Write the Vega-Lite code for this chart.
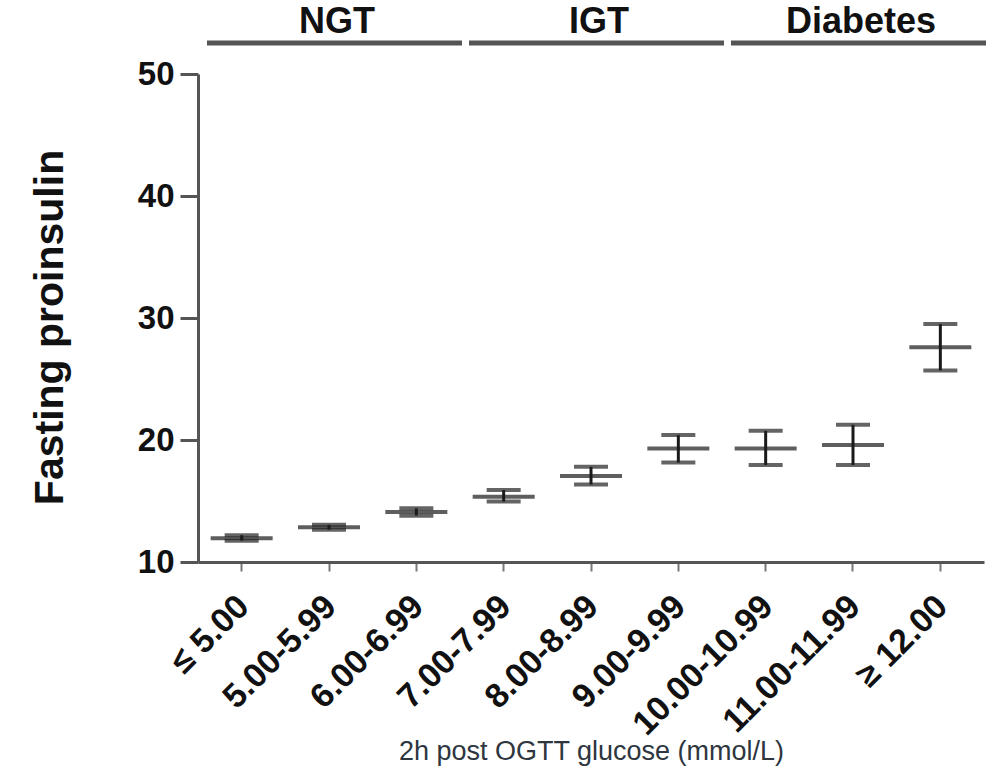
{
  "$schema": "https://vega.github.io/schema/vega-lite/v6.json",
  "autosize": {"type": "none"},
  "padding": {"left": 198, "top": 74, "right": 11, "bottom": 209},
  "width": 786,
  "height": 488,
  "background": "white",
  "config": {
    "view": {"stroke": null},
    "font": "Liberation Sans",
    "axis": {"grid": false}
  },
  "datasets": {
    "stats": [
      {"range": "≤ 5.00", "mean": 11.95, "lo": 11.75, "hi": 12.2},
      {"range": "5.00-5.99", "mean": 12.85, "lo": 12.65, "hi": 13.05},
      {"range": "6.00-6.99", "mean": 14.1, "lo": 13.8, "hi": 14.4},
      {"range": "7.00-7.99", "mean": 15.35, "lo": 14.95, "hi": 15.9},
      {"range": "8.00-8.99", "mean": 17.05, "lo": 16.35, "hi": 17.8},
      {"range": "9.00-9.99", "mean": 19.3, "lo": 18.15, "hi": 20.4},
      {"range": "10.00-10.99", "mean": 19.3, "lo": 17.95, "hi": 20.75},
      {"range": "11.00-11.99", "mean": 19.6, "lo": 17.95, "hi": 21.25},
      {"range": "≥ 12.00", "mean": 27.6, "lo": 25.7, "hi": 29.5}
    ],
    "groups": [
      {"group": "NGT", "first": "≤ 5.00", "mid": "5.00-5.99", "last": "6.00-6.99"},
      {"group": "IGT", "first": "7.00-7.99", "mid": "8.00-8.99", "last": "9.00-9.99"},
      {"group": "Diabetes", "first": "10.00-10.99", "mid": "11.00-11.99", "last": "≥ 12.00"}
    ]
  },
  "encoding": {
    "x": {
      "field": "range",
      "type": "nominal",
      "sort": null,
      "scale": {
        "domain": ["≤ 5.00", "5.00-5.99", "6.00-6.99", "7.00-7.99", "8.00-8.99", "9.00-9.99", "10.00-10.99", "11.00-11.99", "≥ 12.00"],
        "paddingInner": 0,
        "paddingOuter": 0
      },
      "axis": {
        "title": "2h post OGTT glucose (mmol/L)",
        "titleFont": "Liberation Sans",
        "titleFontWeight": "normal",
        "titleFontSize": 27,
        "titleColor": "#2e3640",
        "titlePadding": -3,
        "labelAngle": -45,
        "labelFont": "Liberation Sans",
        "labelFontWeight": "bold",
        "labelFontSize": 34,
        "labelLimit": 400,
        "labelColor": "#111",
        "labelOffset": -10,
        "labelPadding": 18,
        "domainColor": "#555",
        "domainWidth": 3,
        "tickColor": "#777",
        "tickWidth": 2,
        "tickSize": 9
      }
    }
  },
  "layer": [
    {
      "data": {"name": "stats"},
      "mark": {"type": "rule", "color": "#1a1a1a", "strokeWidth": 3},
      "encoding": {
        "y": {
          "field": "lo",
          "type": "quantitative",
          "scale": {"domain": [10, 50], "nice": false, "zero": false},
          "axis": {
            "title": "Fasting proinsulin",
            "titleFont": "Liberation Sans",
            "titleFontWeight": "bold",
            "titleFontSize": 41,
            "titleColor": "#111",
            "titlePadding": 66,
            "titleY": 253,
            "values": [10, 20, 30, 40, 50],
            "labelFont": "Liberation Sans",
            "labelFontWeight": "bold",
            "labelFontSize": 33,
            "labelColor": "#111",
            "labelPadding": 6,
            "domainColor": "#555",
            "domainWidth": 3,
            "tickColor": "#555",
            "tickWidth": 3,
            "tickSize": 18
          }
        },
        "y2": {"field": "hi"}
      }
    },
    {
      "data": {"name": "stats"},
      "mark": {"type": "tick", "color": "#1a1a1a", "size": 62, "thickness": 4},
      "encoding": {"y": {"field": "mean", "type": "quantitative"}}
    },
    {
      "data": {"name": "stats"},
      "mark": {"type": "tick", "color": "#222", "size": 34, "thickness": 4},
      "encoding": {"y": {"field": "lo", "type": "quantitative"}}
    },
    {
      "data": {"name": "stats"},
      "mark": {"type": "tick", "color": "#222", "size": 34, "thickness": 4},
      "encoding": {"y": {"field": "hi", "type": "quantitative"}}
    },
    {
      "data": {"name": "groups"},
      "mark": {"type": "rule", "color": "#555", "strokeWidth": 5, "xOffset": 9, "x2Offset": 2},
      "encoding": {
        "x": {"field": "first", "type": "nominal", "bandPosition": 0},
        "x2": {"field": "last", "bandPosition": 1},
        "y": {"datum": 52.55, "type": "quantitative"}
      }
    },
    {
      "data": {"name": "groups"},
      "mark": {"type": "text", "font": "Liberation Sans", "fontWeight": "bold", "fontSize": 36, "color": "#111", "baseline": "middle", "xOffset": 8},
      "encoding": {
        "x": {"field": "mid", "type": "nominal"},
        "y": {"datum": 54.3, "type": "quantitative"},
        "text": {"field": "group"}
      }
    }
  ]
}
